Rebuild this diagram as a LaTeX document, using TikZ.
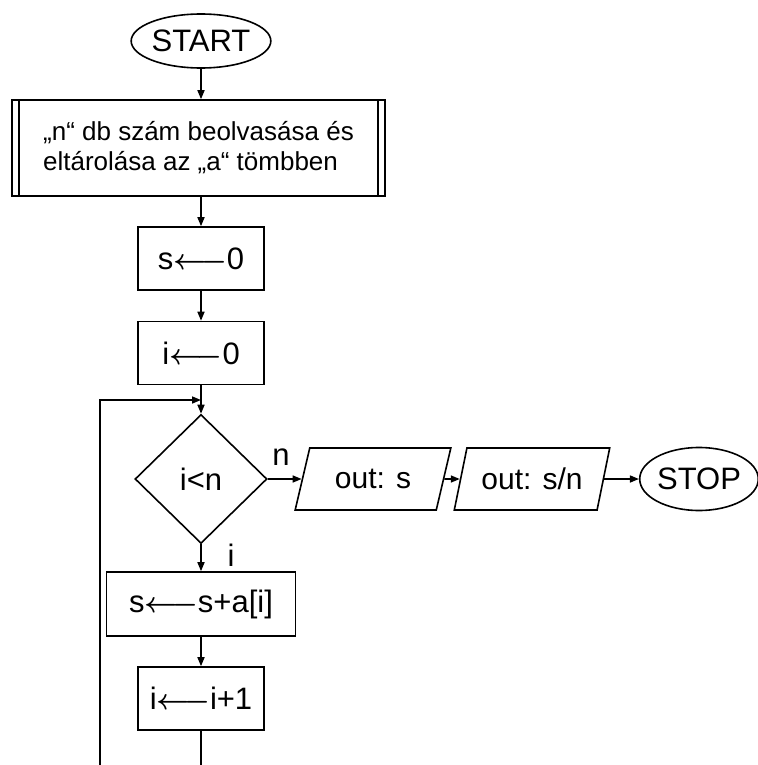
\documentclass[tikz,border=0pt]{standalone}
\usepackage{fontspec}
\setmainfont{Liberation Sans}
\usetikzlibrary{shapes.geometric,arrows.meta}

\newcommand{\getsarrow}{{\boldmath$\longleftarrow$}}

\begin{document}
\begin{tikzpicture}[x=0.5pt,y=-0.5pt,
  every node/.style={font=\fontsize{15.5}{18}\selectfont},
  box/.style={rectangle,draw=black,line width=0.8pt,minimum width=63pt,minimum height=31.5pt,inner sep=0pt},
  term/.style={ellipse,draw=black,line width=0.8pt,inner sep=0pt,font=\fontsize{15.5}{18}\selectfont},
  io/.style={trapezium,trapezium left angle=66,trapezium right angle=114,trapezium stretches=true,draw=black,line width=0.8pt,minimum width=78pt,minimum height=31pt,inner sep=0pt},
  cond/.style={diamond,draw=black,line width=0.8pt,minimum width=66pt,minimum height=64.5pt,inner sep=0pt},
  flow/.style={-{Triangle[length=4.5pt,width=3.5pt]},line width=0.8pt}]
\useasboundingbox (0,0) rectangle (758,765);
% x, y in px from the top left corner
\node[term,minimum width=65pt,minimum height=27pt] (start) at (201,41) {START};
\node[box,minimum width=186.5pt,minimum height=48pt,align=left,font=\fontsize{13}{15}\selectfont] (read) at (198.5,148) {„n“ db szám beolvasása és\\eltárolása az „a“ tömbben};
\draw[line width=0.8pt] ([xshift=4pt]read.north west) -- ([xshift=4pt]read.south west);
\draw[line width=0.8pt] ([xshift=-4pt]read.north east) -- ([xshift=-4pt]read.south east);
\node[box] (s0) at (201,258.5) {s\getsarrow0};
\node[box] (i0) at (201,353) {i\getsarrow0};
\node[cond] (cmp) at (201,479) {i<n};
\node[io,font=\fontsize{15}{18}\selectfont] (outs) at (373,479) {out: s};
\node[io,font=\fontsize{15}{18}\selectfont] (outa) at (532,479) {out: s/n};
\node[term,minimum width=57.5pt,minimum height=31.5pt] (stop) at (699,479) {STOP};
\node[box,minimum width=94.5pt,minimum height=32pt] (add) at (201,604) {s\getsarrow s+a[i]};
\node[box] (inc) at (201,698.5) {i\getsarrow i+1};
% branch labels
\node (lbn) at (281,457) {n};
\node (lbi) at (231,555) {i};
% loop back
\coordinate (bot) at (100,765);
\coordinate (join) at (201,400);

\draw[flow] (start) -- (start |- read.north);
\draw[flow] (s0 |- read.south) -- (s0);
\draw[flow] (s0) -- (i0);
\draw[flow] (i0) -- (cmp);
\draw[flow] (cmp) -- (outs);
\draw[flow] (outs) -- (outa);
\draw[flow] (outa) -- (stop);
\draw[flow] (cmp) -- (add);
\draw[flow] (add) -- (inc);
\draw[line width=0.8pt] (inc) -- (inc |- bot);
\draw[flow] (bot) |- (join);
\end{tikzpicture}
\end{document}
